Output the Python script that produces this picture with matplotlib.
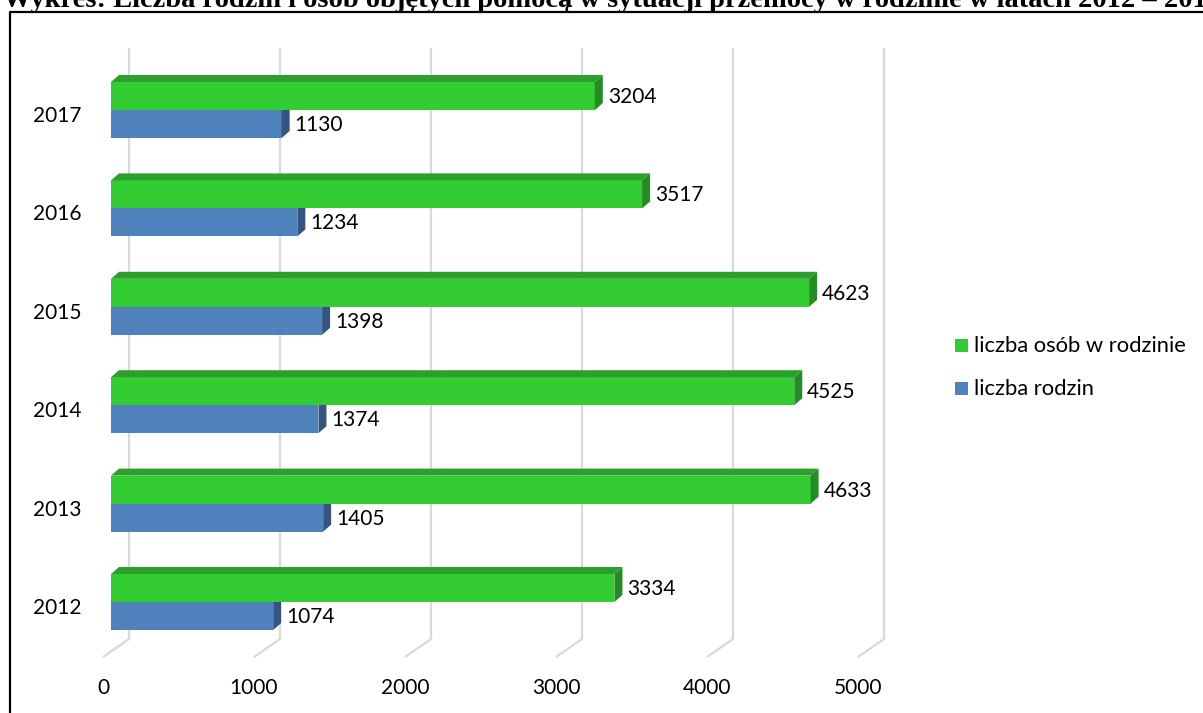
import matplotlib
matplotlib.use("Agg")
import matplotlib.pyplot as plt
from matplotlib.patches import Polygon, Rectangle

# --- data ---
years = ["2012", "2013", "2014", "2015", "2016", "2017"]
liczba_osob = [3334, 4633, 4525, 4623, 3517, 3204]
liczba_rodzin = [1074, 1405, 1374, 1398, 1234, 1130]
x_ticks = [0, 1000, 2000, 3000, 4000, 5000]
series_labels = ["liczba osób w rodzinie", "liczba rodzin"]
title = ("Wykres: Liczba rodzin i osób objętych pomocą w sytuacji przemocy "
         "w rodzinie w latach 2012 – 2017")

# --- colours ---
GREEN, GREEN_TOP, GREEN_SIDE = "#33CC33", "#2C9F2C", "#238C23"
BLUE, BLUE_SIDE = "#4F81BD", "#34557F"
GRID = "#D9D9D9"

W, H = 1203, 713
fig = plt.figure(figsize=(W / 100, H / 100), dpi=100)
ax = fig.add_axes([0, 0, 1, 1])
ax.set_axis_off()

# geometry of the pseudo-3D plot (pixels)
x0_px, sx = 111.0, 0.151          # value 0 on bar front, px per unit
y0_px, pitch = 602.0, 98.4        # category baseline of first year, px per category
ax.set_xlim(-x0_px / sx, (W - x0_px) / sx)
ax.set_ylim((y0_px - H) / pitch, y0_px / pitch)

def ux(px):  # horizontal pixel length -> value units
    return px / sx

def uy(px):  # vertical pixel length -> category units
    return px / pitch

bar_h = uy(28)
dx, dy = ux(8), uy(7)

# back-wall grid lines with floor segment
wall_dx = ux(18)
grid_top = uy(y0_px - 48)
grid_bot = uy(y0_px - 639)
floor_dx, floor_dy = ux(-26), uy(-18)
for v in x_ticks:
    xb = v + wall_dx
    ax.plot([xb, xb, xb + floor_dx], [grid_top, grid_bot, grid_bot + floor_dy],
            color=GRID, lw=1.6, solid_capstyle="butt", zorder=1)
    ax.text(xb + floor_dx, uy(y0_px - 688), f"{v}", ha="center", va="center",
            fontsize=15, family="Lato", color="#000000")

def draw_bar(v, y_bottom, front, side, top=None, z=2):
    ax.barh(y_bottom, v, height=bar_h, left=0, align="edge", color=front,
            edgecolor="none", zorder=z)
    y_top = y_bottom + bar_h
    ax.add_patch(Polygon([(v, y_bottom), (v, y_top), (v + dx, y_top + dy),
                          (v + dx, y_bottom + dy)], closed=True,
                         facecolor=side, edgecolor="none", zorder=z))
    if top is not None:
        ax.add_patch(Polygon([(0, y_top), (v, y_top), (v + dx, y_top + dy),
                              (dx, y_top + dy)], closed=True,
                             facecolor=top, edgecolor="none", zorder=z))

lab_off = ux(13)
for i, (yr, g, b) in enumerate(zip(years, liczba_osob, liczba_rodzin)):
    draw_bar(b, i - bar_h, BLUE, BLUE_SIDE, z=2 + i * 0.01)
    draw_bar(g, i, GREEN, GREEN_SIDE, GREEN_TOP, z=3 + i * 0.01)
    ax.text(g + lab_off, i + bar_h / 2 - uy(1), f"{g}", ha="left", va="center",
            fontsize=15, family="Lato", zorder=5)
    ax.text(b + lab_off, i - bar_h / 2 - uy(1), f"{b}", ha="left", va="center",
            fontsize=15, family="Lato", zorder=5)
    ax.text(ux(82 - x0_px), i - uy(6), yr, ha="right", va="center",
            fontsize=15, family="Lato")

# legend
def fx(px):
    return px / W

def fy(px):
    return 1 - px / H

for (lab, col, cy) in [(series_labels[0], GREEN, 345), (series_labels[1], BLUE, 388)]:
    fig.add_artist(Rectangle((fx(955), fy(cy + 6.5)), fx(13), 13 / H,
                             transform=fig.transFigure, facecolor=col,
                             edgecolor="none"))
    fig.text(fx(974), fy(cy + 1), lab, ha="left", va="center", fontsize=15.8,
             family="Lato")

# frame and title
fig.add_artist(plt.Line2D([fx(9.5), fx(9.5), fx(W + 5)], [fy(H + 5), fy(11.5), fy(11.5)],
                          transform=fig.transFigure, color="black", lw=1.6))
fig.text(fx(3), fy(7), title, ha="left", va="baseline", fontsize=20.5,
         family="Liberation Serif", weight="bold")

fig.savefig("out.png", dpi=100)
